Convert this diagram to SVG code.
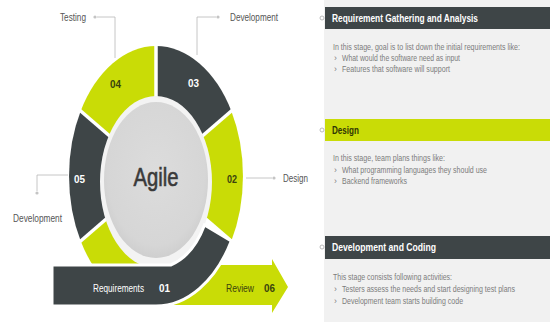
<svg xmlns="http://www.w3.org/2000/svg" width="550" height="322" viewBox="0 0 550 322">
  <defs>
    <radialGradient id="disk" cx="50%" cy="45%" r="55%">
      <stop offset="0" stop-color="#dcdcdc"/>
      <stop offset="0.85" stop-color="#d6d6d6"/>
      <stop offset="1" stop-color="#cfcfcf"/>
    </radialGradient>
  </defs>
  <style>
    .dark { fill: #3e4547; }
    .lime { fill: #c9dc06; }
    .gap { stroke: #ffffff; stroke-width: 3.5; }
    .lead { stroke: #b8b8b8; stroke-width: 0.8; fill: none; }
    .dot { fill: #c4c4c4; }
    .lbl { font-family: "Liberation Sans", Arial, sans-serif; font-size: 10px; fill: #555555; }
    .num { font-family: "Liberation Sans", Arial, sans-serif; font-size: 11px; font-weight: bold; }
    .w { fill: #ffffff; }
    .o { fill: #3a430e; }
    .hdr { font-family: "Liberation Sans", Arial, sans-serif; font-size: 11px; font-weight: bold; }
    .body { font-family: "Liberation Sans", Arial, sans-serif; font-size: 8.5px; fill: #7c7c7c; }
    .mark { fill: #ffffff; stroke: #aaaaaa; stroke-width: 0.8; }
  </style>

  <rect width="550" height="322" fill="#ffffff"/>

  <!-- 06 Review arrow, runs behind the 01 band -->
  <g id="stage-06">
    <path class="lime" d="M150 265 L272 265 L272 259 L288 287 L272 313 L272 305 L150 305 Z"/>
    <text class="lbl o" x="226" y="292" textLength="28" lengthAdjust="spacingAndGlyphs">Review</text>
    <text class="num o" x="264" y="292" textLength="11" lengthAdjust="spacingAndGlyphs">06</text>
  </g>

  <!-- ring segments -->
  <g id="stage-04">
    <path class="lime" d="M156 176 L80.7 111 A87 130 0 0 1 156 46 Z"/>
  </g>
  <g id="stage-03">
    <path class="dark" d="M156 176 L156 46 A87 130 0 0 1 231.3 111 Z"/>
  </g>
  <g id="stage-02">
    <path class="lime" d="M156 176 L231.3 111 A87 130 0 0 1 231.3 241 Z"/>
  </g>
  <g id="stage-tail">
    <path class="lime" d="M156 176 L156 306 A87 130 0 0 1 80.7 241 Z"/>
  </g>
  <g id="stage-05">
    <path class="dark" d="M156 176 L80.7 241 A87 130 0 0 1 80.7 111 Z"/>
  </g>

  <!-- white separators between segments -->
  <g id="separators">
    <line class="gap" x1="156" y1="176" x2="69.4" y2="101.2"/>
    <line class="gap" x1="156" y1="176" x2="156" y2="26"/>
    <line class="gap" x1="156" y1="176" x2="242.6" y2="101.2"/>
    <line class="gap" x1="156" y1="176" x2="242.6" y2="250.8"/>
    <line class="gap" x1="156" y1="176" x2="69.4" y2="250.8"/>
  </g>

  <!-- hub -->
  <g id="hub">
    <ellipse cx="156" cy="182" rx="56" ry="86" fill="#f3f3f3"/>
    <ellipse cx="156" cy="180" rx="52" ry="78" fill="url(#disk)"/>
    <text x="156" y="186" text-anchor="middle" font-family="'Liberation Sans', Arial, sans-serif" font-size="25" fill="#3a3a3a" stroke="#3a3a3a" stroke-width="0.6" textLength="45" lengthAdjust="spacingAndGlyphs">Agile</text>
  </g>

  <!-- 01 Requirements band -->
  <g id="stage-01">
    <path class="dark" stroke="#ffffff" stroke-width="3" d="M231.3 241 A87 130 0 0 1 156 306 L52 306 L52 265 L170.7 265 A56 86 0 0 0 204.5 225 Z"/>
    <text class="lbl w" x="93" y="292" textLength="51" lengthAdjust="spacingAndGlyphs">Requirements</text>
    <text class="num w" x="159" y="292" textLength="11" lengthAdjust="spacingAndGlyphs">01</text>
  </g>

  <!-- segment numbers -->
  <g id="numbers">
    <text class="num o" x="110" y="88" textLength="11" lengthAdjust="spacingAndGlyphs">04</text>
    <text class="num w" x="188" y="87" textLength="11" lengthAdjust="spacingAndGlyphs">03</text>
    <text class="num o" x="227" y="183" textLength="10" lengthAdjust="spacingAndGlyphs">02</text>
    <text class="num w" x="74" y="183" textLength="11" lengthAdjust="spacingAndGlyphs">05</text>
  </g>

  <!-- leader lines -->
  <g id="connectors">
    <polyline class="lead" points="97,17 115,17 115,58"/>
    <circle class="dot" cx="95" cy="17" r="1.6"/>
    <polyline class="lead" points="216,17 197,17 197,55"/>
    <circle class="dot" cx="218" cy="17" r="1.6"/>
    <line class="lead" x1="246" y1="178" x2="272" y2="178"/>
    <circle class="dot" cx="274" cy="178" r="1.6"/>
    <polyline class="lead" points="68,175 37,175 37,191"/>
    <circle class="dot" cx="37" cy="193" r="1.6"/>
  </g>

  <g id="label-testing">
    <text class="lbl" x="60" y="21" textLength="26" lengthAdjust="spacingAndGlyphs">Testing</text>
  </g>
  <g id="label-development-top">
    <text class="lbl" x="230" y="21" textLength="48" lengthAdjust="spacingAndGlyphs">Development</text>
  </g>
  <g id="label-design">
    <text class="lbl" x="283" y="182" textLength="25" lengthAdjust="spacingAndGlyphs">Design</text>
  </g>
  <g id="label-development-left">
    <text class="lbl" x="13" y="222" textLength="49" lengthAdjust="spacingAndGlyphs">Development</text>
  </g>

  <!-- description column -->
  <rect x="324" y="0" width="226" height="322" fill="#f1f1f1"/>

  <!-- body copy is set narrow: each line is squeezed horizontally by 0.72 -->
  <g id="panel-requirements">
    <rect class="dark" x="325" y="7" width="225" height="22"/>
    <circle class="mark" cx="322" cy="18" r="2"/>
    <text class="hdr w" x="332" y="22" textLength="146" lengthAdjust="spacingAndGlyphs">Requirement Gathering and Analysis</text>
    <text class="body" transform="translate(333 50) scale(0.72 1)" textLength="259.7" lengthAdjust="spacingAndGlyphs">In this stage, goal is to list down the initial requirements like:</text>
    <text class="body" x="334" y="61">›</text>
    <text class="body" transform="translate(342 61) scale(0.72 1)" textLength="163.9" lengthAdjust="spacingAndGlyphs">What would the software need as input</text>
    <text class="body" x="334" y="72">›</text>
    <text class="body" transform="translate(342 72) scale(0.72 1)" textLength="150" lengthAdjust="spacingAndGlyphs">Features that software will support</text>
  </g>

  <g id="panel-design">
    <rect class="lime" x="325" y="119" width="225" height="22"/>
    <circle class="mark" cx="322" cy="130" r="2"/>
    <text class="hdr" fill="#2f3505" x="332" y="134" textLength="27" lengthAdjust="spacingAndGlyphs">Design</text>
    <text class="body" transform="translate(333 161) scale(0.72 1)" textLength="155.6" lengthAdjust="spacingAndGlyphs">In this stage, team plans things like:</text>
    <text class="body" x="334" y="173">›</text>
    <text class="body" transform="translate(342 173) scale(0.72 1)" textLength="201.4" lengthAdjust="spacingAndGlyphs">What programming languages they should use</text>
    <text class="body" x="334" y="184">›</text>
    <text class="body" transform="translate(342 184) scale(0.72 1)" textLength="90.3" lengthAdjust="spacingAndGlyphs">Backend frameworks</text>
  </g>

  <g id="panel-development">
    <rect class="dark" x="325" y="236" width="225" height="23"/>
    <circle class="mark" cx="322" cy="247" r="2"/>
    <text class="hdr w" x="332" y="251" textLength="104" lengthAdjust="spacingAndGlyphs">Development and Coding</text>
    <text class="body" transform="translate(333 280) scale(0.72 1)" textLength="165.3" lengthAdjust="spacingAndGlyphs">This stage consists following activities:</text>
    <text class="body" x="334" y="292">›</text>
    <text class="body" transform="translate(342 292) scale(0.72 1)" textLength="240.3" lengthAdjust="spacingAndGlyphs">Testers assess the needs and start designing test plans</text>
    <text class="body" x="334" y="304">›</text>
    <text class="body" transform="translate(342 304) scale(0.72 1)" textLength="168.1" lengthAdjust="spacingAndGlyphs">Development team starts building code</text>
  </g>
</svg>
